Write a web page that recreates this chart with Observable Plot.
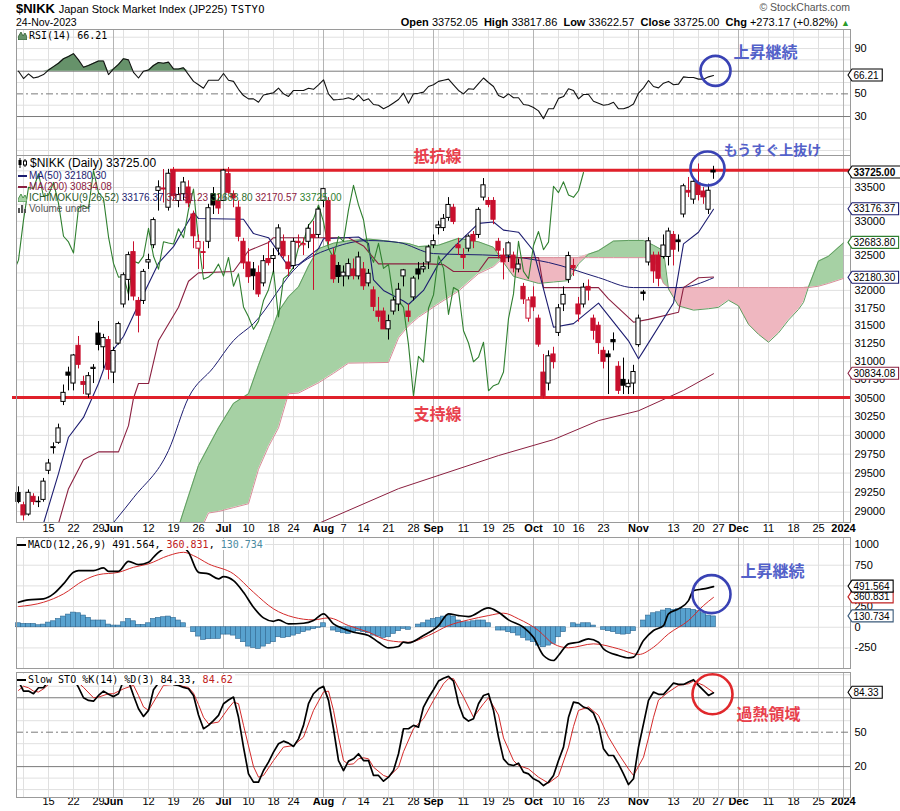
<!DOCTYPE html>
<html><head><meta charset="utf-8">
<script src="https://cdn.jsdelivr.net/npm/d3@7"></script>
<script src="https://cdn.jsdelivr.net/npm/@observablehq/plot@0.6"></script>
<style>
html,body{margin:0;padding:0;background:#fff;}
#wrap{position:relative;width:900px;height:811px;overflow:hidden;font-family:"Liberation Sans",Arial,sans-serif;color:#000;}
#wrap svg{position:absolute;left:0;}
.h{position:absolute;white-space:nowrap;line-height:1;}
.lg{position:absolute;white-space:nowrap;font-size:10px;line-height:11px;}
.mono{font-family:"DejaVu Sans Mono",monospace;}
</style></head><body><div id="wrap"></div>
<script>
// ---------------- DATA ----------------
const dates = ["05-02","05-08","05-09","05-10","05-11","05-12","05-15","05-16","05-17","05-18","05-19","05-22","05-23","05-24","05-25","05-26","05-29","05-30","05-31",
"06-01","06-02","06-05","06-06","06-07","06-08","06-09","06-12","06-13","06-14","06-15","06-16","06-19","06-20","06-21","06-22","06-23","06-26","06-27","06-28","06-29","06-30",
"07-03","07-04","07-05","07-06","07-07","07-10","07-11","07-12","07-13","07-14","07-18","07-19","07-20","07-21","07-24","07-25","07-26","07-27","07-28","07-31",
"08-01","08-02","08-03","08-04","08-07","08-08","08-09","08-10","08-14","08-15","08-16","08-17","08-18","08-21","08-22","08-23","08-24","08-25","08-28","08-29","08-30","08-31",
"09-01","09-04","09-05","09-06","09-07","09-08","09-11","09-12","09-13","09-14","09-15","09-19","09-20","09-21","09-22","09-25","09-26","09-27","09-28","09-29",
"10-02","10-03","10-04","10-05","10-06","10-10","10-11","10-12","10-13","10-16","10-17","10-18","10-19","10-20","10-23","10-24","10-25","10-26","10-27","10-30","10-31",
"11-01","11-02","11-06","11-07","11-08","11-09","11-10","11-13","11-14","11-15","11-16","11-17","11-20","11-21","11-22","11-24"];

const open = [29240,29080,28960,29190,29120,29150,29530,29830,29900,30450, 30850,30700,31220,30720,30550,30900,31390,31200,31300,30850,
31250,31800,32150,32550,31850,31850,32400,32650,33450,33470, 33200,33750,33300,33400,33500,33100,32600,32550,32700,33400,
33300,33300,33700,33400,33200,32700,32400,32300,32250,32100, 32450,32450,32600,32700,32400,32350,32700,32650,32700,32800,
32800,33300,33300,32500,32350,32200,32200,32300,32200,32300, 32100,32000,31700,31700,31450,31700,31800,32200,31700,31900,
32300,32300,32400,32650,32900,32900,33050,33200,32650,32500, 32600,32800,32800,33350,33300,33300,32700,32500,32500,32500,
32300,32050,31600,31900,31600,30850,30700,31100,31400,31800, 32150,32350,31800,31800,32050,31600,31500,31150,31100,31300,
30930,30750,30650,30700,31230,31970,32400,32500,32500,32480, 32480,32800,32720,33100,33450,33320,33560,33440,33170,33752.05];
const high = [29320,29120,29280,29230,29190,29430,29680,29900,30150,30680, 30924,31100,31350,30800,30850,30960,31560,31380,31350,31200,
31550,32250,32550,32700,31900,32300,32520,33050,33600,33770, 33772,33800,33500,33650,33600,33150,32800,32700,33250,33500,
33400,33772,33800,33450,33300,32750,32600,32400,32350,32500, 32700,32600,32950,32800,32500,32750,32800,32750,32950,33000,
33200,33488,33350,32600,32400,32350,32450,32450,32550,32400, 32300,32050,31900,31750,31650,31900,32100,32300,31800,32200,
32400,32400,32650,32800,33000,33100,33350,33250,32750,32600, 32800,32850,33200,33634,33350,33350,32750,32600,32700,32550,
32450,32100,31900,32050,31650,31100,31150,31200,31800,32050, 32550,32450,31900,32100,32150,31650,31550,31200,31150,31400,
31000,31050,30750,30950,31650,32000,32760,32550,32550,32800, 32900,32850,32800,33550,33650,33600,33853,33500,33550,33817.86];
const low = [29100,28880,28940,29080,29050,29120,29480,29750,29880,30400, 30600,30600,30900,30550,30500,30700,31150,30900,30750,30700,
31230,31750,31850,31850,31400,31800,32300,32600,33150,33270, 33150,33300,33200,33300,33200,32600,32300,32300,32600,33100,
33100,33300,33400,33200,32700,32300,32100,32000,31900,32050, 32350,32250,32500,32450,32200,32300,32600,32500,32600,32000,
32750,33200,32650,32100,32100,32050,32150,32150,32150,32000, 32050,31700,31550,31450,31300,31650,31700,32050,31550,31850,
32150,32250,32300,32600,32800,32850,33000,32950,32500,32300, 32550,32600,32750,33300,33200,32950,32450,32150,32400,32250,
32250,31800,31550,31700,31200,30487,30600,30900,31350,31700, 32100,32200,31550,31750,31850,31300,31100,30900,30550,31150,
30550,30550,30550,30550,31200,31850,32350,32100,32050,32450, 32350,32350,32550,33050,33350,33250,33300,33250,33100,33622.57];
const close = [29123,28949,29242,29122,29126,29388,29626,29842,30093,30573, 30808,31086,30957,30682,30801,30916,31233,31328,30888,31148,
31524,32217,32506,31913,31641,32265,32434,33018,33502,33485, 33706,33370,33388,33575,33265,32781,32698,32538,33193,33234,
33189,33753,33422,33338,32773,32388,32189,32203,31943,32419, 32391,32493,32896,32490,32304,32700,32682,32668,32891,32759,
33172,33476,32707,32159,32192,32254,32377,32204,32473,32059, 32238,31766,31626,31450,31565,31856,32010,32287,31624,32169,
32227,32333,32619,32710,32939,33036,33241,32991,32606,32467, 32776,32706,33168,33533,33242,33023,32571,32402,32678,32315,
32371,31872,31857,31759,31237,30526,31075,30994,31746,31936, 32494,32315,31659,32040,31998,31430,31259,30999,31062,31269,
30601,30670,30696,30858,31601,31950,32708,32272,32166,32646, 32850,32585,32695,33519,33424,33585,33388,33354,33452,33725];

// moving averages (trading-day index, value)
const ma50Idx = [16,23,30,34,39,43,47,56,63,70,76,83,96,106,116,123,132,139];
const ma50Val = [28626,29178,29798,30508,30921,31293,31530,32357,32616,32718,32690,32529,32500,32400,32183,32040,32040,32180.30];
const ma200Idx = [50,60,76,96,107,116,124,133,139];
const ma200Val = [28500,28846,29296,29731,29943,30197,30330,30606,30834.08];

// Ichimoku
const tenkanIdx = [5,8,10,13,16,18,21,24,28,31,33,35,36,45,47,50,54,56,60,61,68,70,71,73,77,78,81,84,87,92,95,97,100,103,107,111,116,122,124,125,131,133,136,139];
const tenkanVal = [28846,29492,29975,30240,30700,31080,31350,31800,32390,32630,32880,33130,33040,33030,32820,32760,32340,32370,32600,32744,32770,32675,32150,32000,31850,31800,32000,32380,32620,32970,32990,32870,32840,32570,31480,31530,31820,31290,31040,31150,31820,32670,32840,33176.37];
const kijunIdx = [8,10,13,16,20,22,23,24,26,28,32,34,36,43,46,50,51,66,69,72,82,85,87,92,94,104,105,116,118,123,126,132,133,136,139];
const kijunVal = [28846,29296,29676,29780,29780,30130,30500,30700,30700,31290,31760,32130,32250,32270,32570,32690,32760,32760,32640,32380,32380,32370,32270,32270,32470,32470,32040,32040,31880,31550,31590,31690,32040,32180,32191.23];
const cloudIdx = [32,34,36,38,40,43,46,48,50,52,54,56,58,60,63,66,70,74,76,78,80,84,88,92,95,97,99,101,104,107,110,112,114,116,119,122,125,127,129,130,132,135,138,140,142,144,146,148,150,152,154,156,157,158,160,162,165];
const spanA = [28800,29200,29600,29850,30100,30430,30560,30950,31320,31700, 31910,32050,32350,32600,32680,32715,32740,32710,32690,32675,
32630,32650,32750,32700,32620,32400,32200,32160,32100,32120, 32140,32380,32520,32570,32710,32720,32720,32650,32570,32020,
31780,31720,31740,31760,31860,31780,31520,31380,31270,31400, 31580,31730,31830,32050,32420,32490,32683.80];
const spanB = [28000,28300,28700,28980,29000,29050,29100,29550,29850,30100, 30560,30570,30640,30710,30840,30980,30985,30990,31330,31500,
31620,31810,31990,32240,32340,32470,32470,32470,32470,32470, 32470,32470,32470,32470,32470,32470,32470,32470,32100,32040,
32040,32040,32040,32040,32040,32040,32040,32040,32040,32040, 32040,32040,32040,32040,32060,32100,32170.57];
const chikouShift = 26;

// support / resistance
const resistance = 33760, resistanceFrom = 30.4;
const support = 30510;

// RSI(14)
const rsi = [70,63.5,67.7,64,65,67,71,74,77,81, 83,85.5,80,73.5,75,77,79,79,67,72, 76,81,80,69,64,70,71,75,77.7,77,
78,72,72,73,67,61,58,55,62,62, 62,68,62,61,54,48.5,45.6,45.6,42.6,49, 50,51,55,50,47.7,53,53,53,55,54,
58,62.4,50,44.7,45,45.5,46.6,44.7,49,44, 45.6,40.6,40,36.8,39,42,45,50.6,41.8,50, 50.5,51.5,56.5,58,61,62,63,58,53,50,
54.5,54,59,64,60,56.5,48.5,46.6,50,46.6, 46.6,40.6,40,38,35,28,36.8,36.8,46,47.6, 54.5,53,45.6,49.4,49.4,43.5,41.8,40,40.6,42.6,
36.8,36.8,38.3,41,50.6,55.3,61.8,56.5,55.3,59.4, 61,58,58.6,65,64.5,64.5,63,63,65,66.21];

// MACD(12,26,9)
const macdIdx = [0,2,5,7,9,11,12,15,17,18,20,22,24,26,27,28,30,32,34,36,38,40,41,43,45,47,49,51,52,54,57,59,61,63,65,67,70,72,74,76,77,78,81,84,86,88,90,94,96,98,101,103,105,107,108,110,112,114,116,117,120,122,123,125,127,129,130,132,134,135,137,139];
const macdVal = [302,331,343,403,524,664,685,685,717,676,676,797,757,785,846,906,980,1000,906,664,645,584,612,564,423,242,113,72,89,41,48,81,162,41,-19,-60,-100,-181,-249,-233,-181,-190,-100,20,162,141,129,234,181,89,0,-121,-342,-402,-342,-201,-181,-140,-181,-261,-342,-370,-362,-161,-40,20,162,222,322,443,463,491.564];
const sigIdx = [0,5,9,13,16,20,23,26,30,33,35,38,43,47,51,55,59,62,66,70,74,78,82,86,90,94,97,100,104,107,110,115,120,124,127,130,134,137,139];
const sigVal = [250,302,403,564,636,664,725,766,866,906,866,766,645,423,222,121,89,113,20,-60,-161,-181,-100,20,89,141,170,101,-40,-201,-249,-201,-261,-330,-242,-80,81,262,360.831];
const hist = [48,40,40,40,24,32,56,72,100,129, 153,177,169,141,113,81,81,81,32,20, 20,60,100,72,28,28,48,100,113,121,
129,113,81,48,0,-60,-113,-153,-145,-141, -141,-89,-89,-101,-141,-181,-234,-250,-262,-234, -202,-181,-121,-129,-121,-101,-81,-60,-40,-24,
-8,48,0,-40,-60,-73,-81,-60,-48,-60, -73,-101,-113,-129,-121,-81,-48,-20,-32,0, 32,48,81,100,113,129,141,129,81,60,
60,72,81,81,48,0,-40,-40,-60,-73, -101,-129,-161,-181,-222,-242,-222,-202,-121,-60, 0,48,32,48,48,20,0,-32,-48,-60,
-81,-89,-81,-48,0,81,141,169,181,202, 222,210,218,222,222,210,194,169,141,130.734];

// Slow Stochastic %K(14) %D(3)
const stoK = [94.5,85.8,85.8,83.5,88.7,88.7,94.5,97,98,98.5, 98.5,97,89,80,77.7,77,82,85.8,83,81, 83.5,95,94.5,82,70.4,63.7,69,87,92.8,93.5,
93.7,91.5,90.8,89,87.8,82,65,53,55.9,60, 64.6,74.8,78,80.6,63,37,13.7,6.5,6.5,16.6, 23.9,32.6,39.9,42.2,40.5,37.6,44.2,55.9,74.8,83.5,
87.8,89.9,77.7,53,25.3,16.6,24.8,26.8,31.2,25.3, 25.3,12.3,12.3,7.3,10.8,16.6,31.2,53,53,55.9, 54.4,71.9,80,87,94.5,97,98.6,94.5,74.8,63,
59.7,61.7,74.8,82,83.5,69,45.7,26.8,21.9,21, 23,15.2,13.7,9.4,7.3,3.5,6.5,12.3,25.3,37, 63,76.2,75.3,71.9,70.4,66.6,55.9,35.5,29.7,29.7,
22.4,13.7,4.4,9.4,37,57.3,77.7,85,83,83, 87.8,92.8,91.6,91.6,93.7,95.7,90.8,86.4,82,84.33];
const stoDIdx = [0,1,2,3,4,5,6,7,9,11,13,15,16,18,19,21,23,24,25,26,27,29,31,34,35,36,37,38,40,42,43,44,45,46,47,48,49,51,53,55,57,59,61,62,63,64,65,66,67,68,69,70,71,73,74,76,77,79,81,83,85,86,87,89,91,93,94,96,97,99,100,102,104,106,108,110,111,112,114,116,118,120,122,123,125,126,127,128,130,132,134,135,137,139];
const stoDVal = [86.4,90,88.7,85.8,85,87.8,91.6,95,97,97,89,80,80.6,83.5,83.5,87.8,90.8,82,72,69,76.2,90.8,91.6,89,84,74,63,57.3,58.8,71,76.2,74.8,56,38,20,10.8,12.3,25.3,37,38.4,45.7,69,85,85.8,69,45.7,25.3,21.9,22.4,26.8,27.7,26.8,19.5,12.3,10.8,19.5,33,53,61.7,77.7,92.2,96.6,96.6,80.6,63,74.8,80,65,45,25.3,21,18,10.8,5.6,12,37,55,69,72,64.6,45.7,31.2,18,12.3,28.2,45,63,78,85,90.8,92.2,94.5,90.8,84.62];

// axis ticks
const weekIdx = [1,6,11,16,21,26,31,36,41,46,51,55,60,65,69,74,79,84,89,94,98,103,108,112,117,122,126,131,136,140,145,150,155,160,165];
const monthIdx = [19,41,61,83,103,124,144,165];
const xTickIdx = [6,11,16,19,26,31,36,41,46,51,55,61,65,69,74,79,83,89,94,98,103,108,112,117,124,131,136,140,144,150,155,160,165];
const xTickLabels = ["15","22","29","Jun","12","19","26","Jul","10","18","24","Aug","7","14","21","28","Sep","11","19","25","Oct","10","16","23","Nov","13","20","27","Dec","11","18","25","2024"];
const priceGrid = [29000,29250,29500,29750,30000,30250,30500,30750,31000,31250,31500,31750,32000,32250,32500,32750,33000,33250,33500,33750];
const priceTicks = [29000,29250,29500,29750,30000,30250,30500,30750,31000,31250,31500,31750,32000,32500,33000,33500];
const rsiTicks = [90,50,30];
const macdGrid = [1000,750,500,250,0,-250];
const macdTicks = [1000,750,250,0,-250];
const stoTicks = [50,20];

// ---------------- BUILD ----------------
const wrap = document.getElementById("wrap");
const RED = "#c8102e", NAVY = "#1c1c70", MAROON = "#8b2040", GREEN = "#2f7f2f";
const xDomain = [-0.4, 166.4];
const zip = (idx, val) => idx.map((i, k) => ({i, v: val[k]}));

function mk(top, height, mt, mb, yOpt, marks) {
  const svg = Plot.plot({
    width: 900, height, marginLeft: 16, marginRight: 50, marginTop: mt, marginBottom: mb,
    x: {domain: xDomain, axis: null},
    y: Object.assign({axis: null}, yOpt),
    style: {background: "none", overflow: "visible", fontFamily: "Liberation Sans, Arial, sans-serif", fontSize: "11px", color: "#000"},
    marks
  });
  svg.style.top = top + "px";
  wrap.appendChild(svg);
  return svg;
}
const vgrid = () => [
  Plot.ruleX(weekIdx, {stroke: "#e0e0e0"}),
  Plot.ruleX(monthIdx, {stroke: "#b4b4b4"})
];
const yLabels = (ticks, fmt) => Plot.text(ticks, {y: d => d, text: fmt || (d => String(d)), frameAnchor: "right", textAnchor: "start", dx: 4, fontSize: 11, fill: "#000"});
const xLabels = (dy) => {
  const t = xTickIdx.map((i, k) => ({i, s: xTickLabels[k], b: /[A-Za-z]|2024/.test(xTickLabels[k])}));
  return [
    Plot.text(t.filter(d => !d.b), {x: "i", text: "s", frameAnchor: "bottom", dy, fontSize: 11, fill: "#000"}),
    Plot.text(t.filter(d => d.b), {x: "i", text: "s", frameAnchor: "bottom", dy, fontSize: 11, fontWeight: "bold", fill: "#000"})
  ];
};
const annFont = "Noto Sans CJK JP, sans-serif";
const BLUE_T = "#5361c9", BLUE_C = "#3942b4", RED_T = "#e8404c", RED_C = "#e0282c";

function tags(svg, list) {
  const y = svg.scale("y");
  const g = d3.select(svg).append("g")
    .attr("font-family", "Liberation Sans, Arial, sans-serif").attr("font-size", 10)
    .attr("text-anchor", "start");
  for (const t of list) {
    const yy = y.apply(t.v);
    const w = t.text.length * 5.45 + (t.bold ? 5 : 3), h = 12, x0 = 848;
    g.append("path")
      .attr("d", `M${x0},${yy} L${x0 + 4},${yy - h / 2} L${x0 + 4 + w},${yy - h / 2} L${x0 + 4 + w},${yy + h / 2} L${x0 + 4},${yy + h / 2} Z`)
      .style("fill", "#ffffff").style("stroke", t.color).style("stroke-width", "1.1px");
    g.append("text").attr("x", x0 + 5.5).attr("y", yy + 3.6).attr("text-anchor", "start")
      .style("fill", "#000").attr("font-weight", t.bold ? "bold" : "normal").text(t.text);
  }
}

// ---- RSI panel (frame 29..155) ----
const rsiData = rsi.map((v, i) => ({i, v}));
const rsiSvg = mk(28, 127, 1, 0, {domain: [-4.4, 106.8]}, [
  Plot.ruleY([0, 10, 20, 40, 60, 80, 90, 100], {stroke: "#e0e0e0"}),
  ...vgrid(),
  Plot.ruleY([70, 30], {stroke: "#7a7a7a"}),
  Plot.ruleY([50], {stroke: "#7a7a7a", strokeDasharray: "7,3,2,3"}),
  Plot.areaY(rsiData, {x: "i", y1: 70, y2: d => Math.max(70, d.v), fill: "#66926a"}),
  Plot.line(rsiData, {x: "i", y: "v", stroke: "#111", strokeWidth: 1.1}),
  yLabels(rsiTicks),
  Plot.frame({stroke: "#9a9a9a"}),
  Plot.dot([{i: 139.4, v: 70.3}], {x: "i", y: "v", r: 15, stroke: BLUE_C, strokeWidth: 2.6, fill: "none"}),
  Plot.text([{i: 149.4, v: 86.5, t: "上昇継続"}], {x: "i", y: "v", text: "t", fill: BLUE_T, fontSize: 16, fontWeight: "bold", fontFamily: annFont})
]);
tags(rsiSvg, [{v: 66.21, text: "66.21", color: "#000"}]);

// ---- Main price panel (frame 155..522) ----
const candles = close.map((c, i) => {
  const pc = i ? close[i - 1] : c;
  const col = c >= pc ? "#000" : RED;
  return {i, o: open[i], h: high[i], l: low[i], c, col, fill: c > open[i] ? "#fff" : col};
});
const cloud = cloudIdx.map((i, k) => ({i, a: spanA[k], b: spanB[k]}));
const chikou = close.map((c, k) => ({i: k - chikouShift, v: c})).filter(d => d.i >= -1);
const mainSvg = mk(131, 407, 24, 16, {type: "log", domain: [28858, 33981]}, [
  Plot.ruleY(priceGrid, {stroke: "#e0e0e0"}),
  ...vgrid(),
  Plot.areaY(cloud, {x: "i", y1: "b", y2: d => Math.max(d.a, d.b), fill: "#a6d1a4", clip: true}),
  Plot.areaY(cloud, {x: "i", y1: "a", y2: d => Math.max(d.a, d.b), fill: "#efb7c0", clip: true}),
  Plot.line(cloud, {x: "i", y: "a", stroke: "#5f9d5f", strokeWidth: 1, clip: true}),
  Plot.line(cloud, {x: "i", y: "b", stroke: "#d88c98", strokeWidth: 1, clip: true}),
  Plot.line(zip(ma200Idx, ma200Val), {x: "i", y: "v", stroke: MAROON, strokeWidth: 1, clip: true}),
  Plot.line(zip(ma50Idx, ma50Val), {x: "i", y: "v", stroke: NAVY, strokeWidth: 1, curve: "monotone-x", clip: true}),
  Plot.line(zip(kijunIdx, kijunVal), {x: "i", y: "v", stroke: MAROON, strokeWidth: 1.1, clip: true}),
  Plot.line(zip(tenkanIdx, tenkanVal), {x: "i", y: "v", stroke: NAVY, strokeWidth: 1.1, clip: true}),
  Plot.line(chikou, {x: "i", y: "v", stroke: GREEN, strokeWidth: 1.1, clip: true}),
  Plot.ruleY([resistance], {x1: resistanceFrom, x2: xDomain[1], stroke: "#e0202a", strokeWidth: 3}),
  Plot.ruleY([support], {x1: -1.2, x2: xDomain[1], stroke: "#e0202a", strokeWidth: 3}),
  Plot.ruleX(candles, {x: "i", y1: "l", y2: "h", stroke: "col", strokeWidth: 1}),
  Plot.rect(candles, {x1: d => d.i - 0.42, x2: d => d.i + 0.42, y1: "o", y2: "c", fill: "fill", stroke: "col", strokeWidth: 1}),
  yLabels(priceTicks),
  ...xLabels(9),
  Plot.frame({stroke: "#9a9a9a"}),
  Plot.dot([{i: 137.8, v: 33785}], {x: "i", y: "v", r: 17, stroke: BLUE_C, strokeWidth: 2.6, fill: "none"}),
  Plot.text([{i: 150.8, v: 34060, t: "もうすぐ上抜け"}], {x: "i", y: "v", text: "t", fill: BLUE_T, fontSize: 14, fontWeight: "bold", fontFamily: annFont}),
  Plot.text([{i: 83.8, v: 33966, t: "抵抗線"}, {i: 83.8, v: 30278, t: "支持線"}], {x: "i", y: "v", text: "t", fill: RED_T, fontSize: 16, fontWeight: "bold", fontFamily: annFont})
]);
tags(mainSvg, [
  {v: 30834.08, text: "30834.08", color: MAROON},
  {v: 32180.30, text: "32180.30", color: NAVY},
  {v: 32683.80, text: "32683.80", color: GREEN},
  {v: 33176.37, text: "33176.37", color: NAVY},
  {v: 33725, text: "33725.00", color: "#000", bold: true}
]);

// ---- MACD panel (frame 537..668) ----
const histData = hist.map((v, i) => ({i, v}));
const macdSvg = mk(530, 138, 7, 0, {domain: [-499, 1085]}, [
  Plot.ruleY(macdGrid, {stroke: "#e0e0e0"}),
  ...vgrid(),
  Plot.rect(histData, {x1: d => d.i - 0.5, x2: d => d.i + 0.5, y1: 0, y2: "v", fill: "#58a2cf", stroke: "#2d6690", strokeWidth: 0.6}),
  Plot.line(zip(sigIdx, sigVal), {x: "i", y: "v", stroke: "#d42a2a", strokeWidth: 1, curve: "monotone-x"}),
  Plot.line(zip(macdIdx, macdVal), {x: "i", y: "v", stroke: "#000", strokeWidth: 1.7, curve: "monotone-x"}),
  yLabels(macdTicks),
  Plot.frame({stroke: "#9a9a9a"}),
  Plot.dot([{i: 138.6, v: 400}], {x: "i", y: "v", r: 19, stroke: BLUE_C, strokeWidth: 2.6, fill: "none"}),
  Plot.text([{i: 150.8, v: 673, t: "上昇継続"}], {x: "i", y: "v", text: "t", fill: BLUE_T, fontSize: 16, fontWeight: "bold", fontFamily: annFont})
]);
tags(macdSvg, [
  {v: 130.734, text: "130.734", color: "#3a5a7a"},
  {v: 360.831, text: "360.831", color: "#c02020"},
  {v: 491.564, text: "491.564", color: "#000"}
]);

// ---- Slow STO panel (frame 672..797) ----
const kData = stoK.map((v, i) => ({i, v}));
const stoSvg = mk(668, 143, 4, 14, {domain: [-6.9, 102]}, [
  Plot.ruleY([0, 10, 30, 40, 60, 70, 90, 100], {stroke: "#e0e0e0"}),
  ...vgrid(),
  Plot.ruleY([80, 20], {stroke: "#7a7a7a"}),
  Plot.ruleY([50], {stroke: "#7a7a7a", strokeDasharray: "7,3,2,3"}),
  Plot.line(zip(stoDIdx, stoDVal), {x: "i", y: "v", stroke: "#d42a2a", strokeWidth: 1}),
  Plot.line(kData, {x: "i", y: "v", stroke: "#000", strokeWidth: 1.7}),
  yLabels(stoTicks),
  ...xLabels(7),
  Plot.frame({stroke: "#9a9a9a"}),
  Plot.dot([{i: 138.8, v: 83}], {x: "i", y: "v", r: 20, stroke: RED_C, strokeWidth: 2.6, fill: "none"}),
  Plot.text([{i: 150, v: 65.4, t: "過熱領域"}], {x: "i", y: "v", text: "t", fill: RED_T, fontSize: 16, fontWeight: "bold", fontFamily: annFont})
]);
tags(stoSvg, [{v: 84.33, text: "84.33", color: "#000"}]);

// ---------------- HTML TEXT (header + legends) ----------------
const dash = c => `<span style="display:inline-block;width:9px;height:2px;background:${c};vertical-align:middle;margin-right:2px"></span>`;
wrap.insertAdjacentHTML("beforeend", `
<div class="h" style="left:16px;top:2px;font-size:13px;height:14px;"><b style="font-size:13px">$NIKK</b> <span style="font-size:11px">Japan Stock Market Index (JP225)</span> <span class="mono" style="font-size:10.5px;letter-spacing:0.5px">TSTYO</span></div>
<div class="h" style="left:16px;top:17px;font-size:10.5px;">24-Nov-2023</div>
<div class="h" style="right:50px;top:2px;font-size:10.5px;color:#555;">&#169; StockCharts.com</div>
<div class="h" style="right:50px;top:17px;font-size:11px;"><b>Open</b> 33752.05 &nbsp;<b>High</b> 33817.86 &nbsp;<b>Low</b> 33622.57 &nbsp;<b>Close</b> 33725.00 &nbsp;<b>Chg</b> +273.17 (+0.82%) <span style="color:#2a9a2a;font-size:9px">&#9650;</span></div>

<div class="lg mono" style="left:18px;top:30px;"><svg width="9" height="9" style="position:static;vertical-align:-1px;margin-right:2px"><path d="M0,9 L0,6 L3,1 L5,5 L7,2 L9,6 L9,9Z" fill="#66926a" stroke="#2d5c2d" stroke-width="0.8"/></svg>RSI(14) 66.21</div>

<div class="lg" style="left:18px;top:157px;font-size:12px;line-height:12px;"><svg width="10" height="10" style="position:static;vertical-align:-1px;margin-right:2px"><path d="M2,0V10M7,1V9" stroke="#000"/><rect x="0.5" y="2" width="3" height="5" fill="#000"/><rect x="5.5" y="3" width="3" height="4" fill="#fff" stroke="#000"/></svg>$NIKK (Daily) 33725.00</div>
<div class="lg" style="left:18px;top:170px;color:${NAVY}">${dash(NAVY)}MA(50) 32180.30</div>
<div class="lg" style="left:18px;top:181px;color:${MAROON}">${dash(MAROON)}MA(200) 30834.08</div>
<div class="lg" style="left:18px;top:192px;"><svg width="9" height="9" style="position:static;vertical-align:-1px;margin-right:2px"><path d="M0,9 L0,6 L3,1 L5,5 L7,2 L9,6 L9,9Z" fill="#a6d1a4" stroke="#2f7f2f" stroke-width="0.8"/></svg><span style="color:#2b5a2b">ICHIMOKU(9,26,52)</span> <span style="color:${NAVY}">33176.37</span> <span style="color:${MAROON}">32191.23</span> <span style="color:#2f6f2f">32683.80</span> <span style="color:${MAROON}">32170.57</span> <span style="color:${GREEN}">33725.00</span></div>
<div class="lg" style="left:18px;top:203px;color:#555"><svg width="9" height="9" style="position:static;vertical-align:-1px;margin-right:2px"><path d="M1,9V4M4,9V1M7,9V5" stroke="#555" stroke-width="2"/></svg>Volume undef</div>

<div class="lg mono" style="left:17px;top:539px;background:#fff;padding-right:2px">${dash("#000")}MACD(12,26,9) 491.564, <span style="color:#c02020">360.831</span>, <span style="color:#4a8aa0">130.734</span></div>
<div class="lg mono" style="left:17px;top:674px;background:#fff;padding-right:2px">${dash("#000")}Slow STO %K(14) %D(3) 84.33, <span style="color:#c02020">84.62</span></div>
`);
</script></body></html>
